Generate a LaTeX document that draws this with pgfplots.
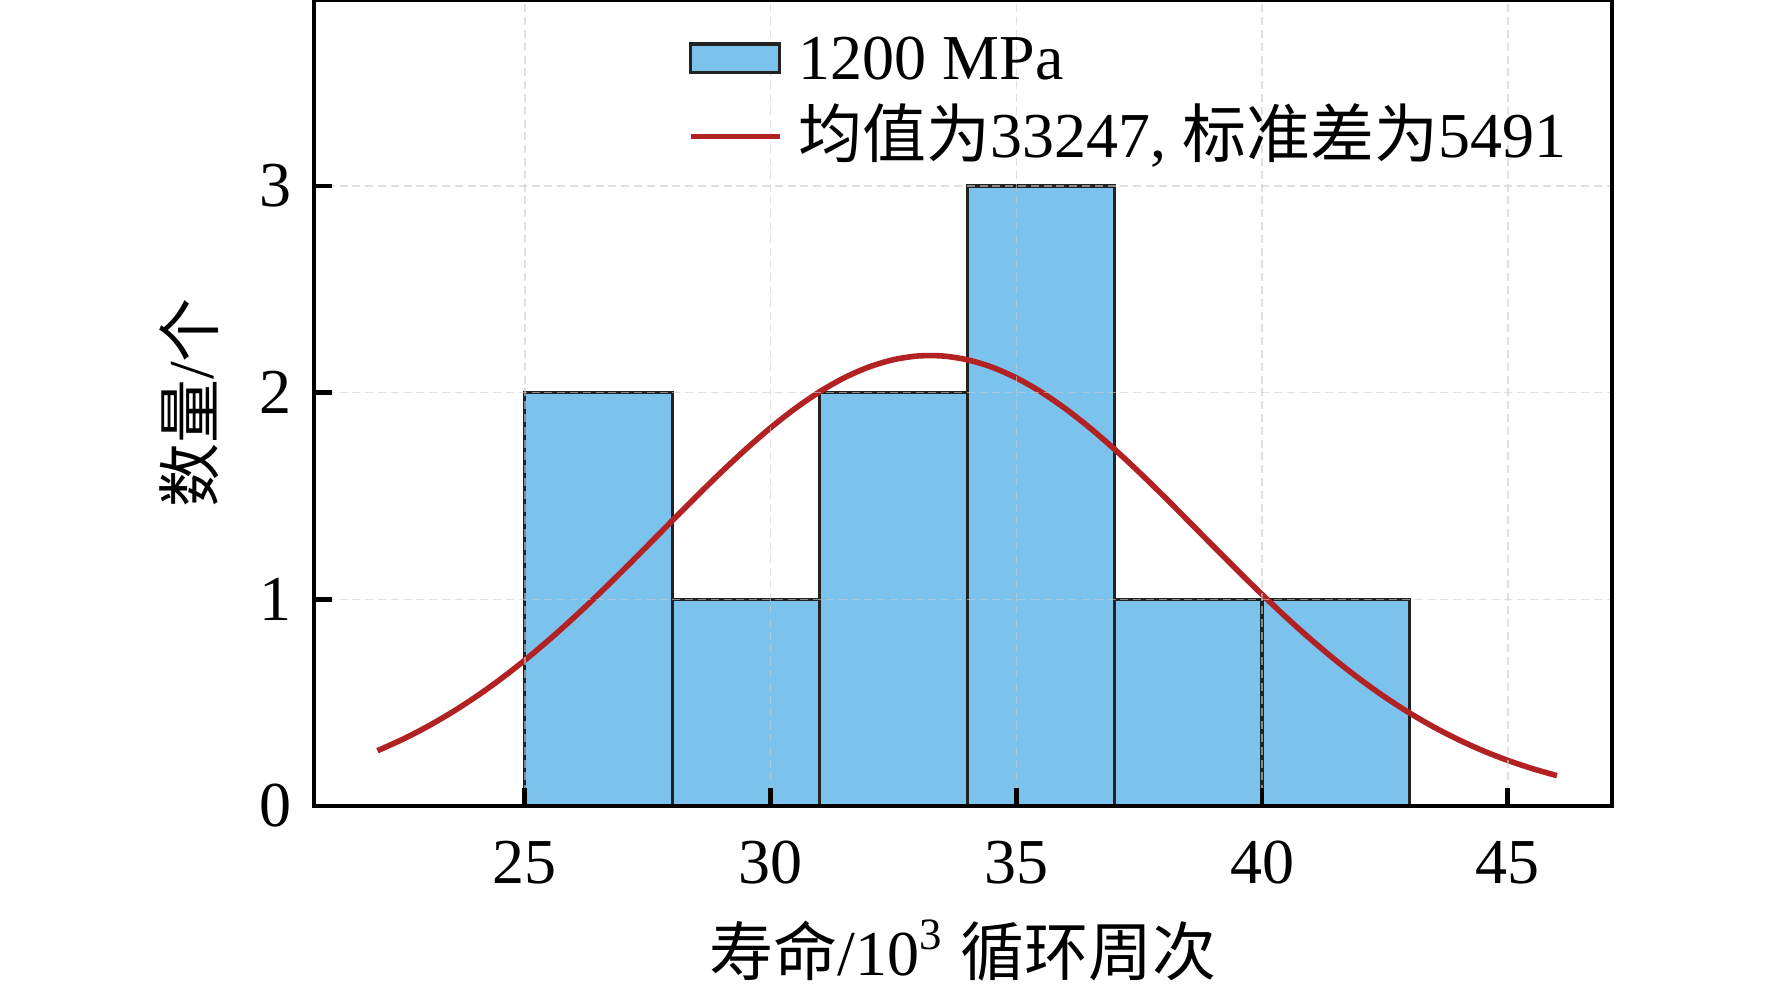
\documentclass[border=0pt]{standalone}
\usepackage{fontspec}
\setmainfont{Liberation Serif}
\newfontfamily\cjk{Noto Sans CJK SC}
\usepackage{pgfplots}
\pgfplotsset{compat=1.18}
\definecolor{barblue}{RGB}{123,195,236}
\definecolor{baredge}{RGB}{34,34,34}
\definecolor{curvered}{RGB}{178,34,34}
\pgfplotsset{
  barleg/.style={legend image code/.code={\draw[fill=barblue, draw=baredge, line width=0.8pt] (0pt,1.8pt) rectangle (22.25pt,9pt);}},
  lineleg/.style={legend image code/.code={\draw[curvered, line width=1.4pt] (0pt,5.4pt) -- (22.25pt,5.4pt);}},
}
\begin{document}
\begin{tikzpicture}
\begin{axis}[name=ax,
 scale only axis, width=324.5pt, height=201.5pt,
 xmin=20.71, xmax=47.12, ymin=0, ymax=3.9,
 xtick={25,30,35,40,45}, ytick={0,1,2,3},
 axis on top,
 axis line style={line width=1.2pt, black},
 tick align=inside, xtick pos=left, ytick pos=left,
 major tick length=4.5pt,
 tick style={line width=1.2pt, black},
 grid=major,
 major grid style={dash pattern=on 2pt off 1.2pt, line width=0.4pt, color=gray!40, opacity=0.6},
 /pgf/number format/assume math mode=true,
 tick label style={font=\fontsize{16}{19}\selectfont},
 xticklabel style={yshift=-5.25pt},
 yticklabel style={xshift=-2pt},
 xlabel={{\cjk 寿命}/10\textsuperscript{3} {\cjk 循环周次}},
 ylabel={{\cjk 数量}/{\cjk 个}},
 label style={font=\fontsize{16}{19}\selectfont},
 xlabel style={at={(axis description cs:0.5,-0.2097)}, anchor=base},
 ylabel style={at={(axis description cs:-0.0963,0.5)}, anchor=center},
 legend cell align=left,
 legend style={draw=none, fill=none, at={(0.2881,0.9603)}, anchor=north west,
   inner sep=0pt, outer sep=0pt, font=\fontsize{16}{19}\selectfont,
   nodes={inner sep=0pt, text height=12pt, text depth=4pt},
   cells={anchor=base west}, row sep=3.5pt, column sep=4pt},
]
\addplot[ybar, bar width=3, bar shift=0pt, fill=barblue, draw=baredge, line width=0.8pt, barleg]
  coordinates {(26.5,2)(29.5,1)(32.5,2)(35.5,3)(38.5,1)(41.5,1)};
\addlegendentry{1200 MPa}
\addplot[smooth, curvered, line width=1.4pt, lineleg]
  coordinates {(22,0.2674)(22.5,0.3211)(23,0.3821)(23.5,0.4510)(24,0.5279)(24.5,0.6129)
  (25,0.7056)(25.5,0.8057)(26,0.9124)(26.5,1.0246)(27,1.1413)(27.5,1.2605)
  (28,1.3808)(28.5,1.5001)(29,1.6163)(29.5,1.7270)(30,1.8301)(30.5,1.9233)
  (31,2.0047)(31.5,2.0721)(32,2.1241)(32.5,2.1596)(33,2.1775)(33.5,2.1774)
  (34,2.1592)(34.5,2.1237)(35,2.0714)(35.5,2.0037)(36,1.9222)(36.5,1.8289)
  (37,1.7257)(37.5,1.6148)(38,1.4988)(38.5,1.3793)(39,1.2590)(39.5,1.1398)
  (40,1.0232)(40.5,0.9111)(41,0.8045)(41.5,0.7045)(42,0.6119)(42.5,0.5270)
  (43,0.4501)(43.5,0.3813)(44,0.3204)(44.5,0.2669)(45,0.2205)(45.5,0.1808)(46,0.1469)};
\addlegendentry{{\cjk 均值为}33247, {\cjk 标准差为}5491}
\end{axis}
\pgfresetboundingbox
\path[use as bounding box] ([xshift=-78.5pt,yshift=-46.25pt]ax.south west) rectangle ++(443pt,247.75pt);
\end{tikzpicture}
\end{document}
